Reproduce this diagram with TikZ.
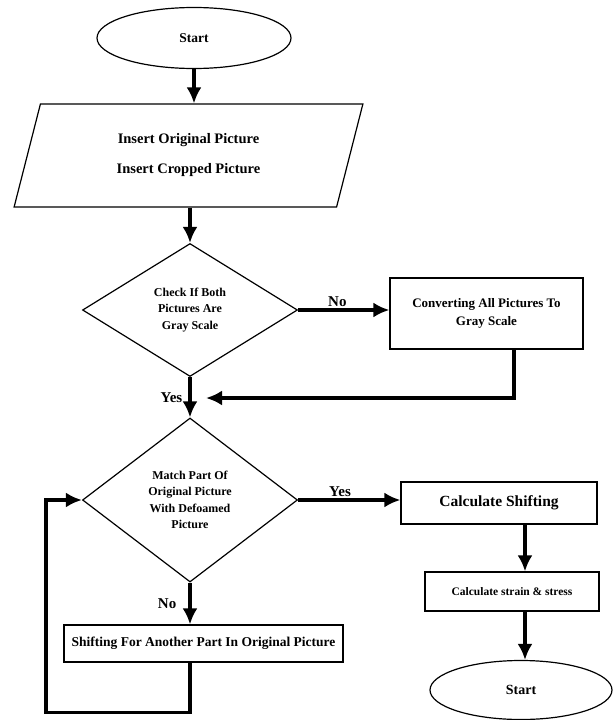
\documentclass[tikz,border=0pt]{standalone}
\usepackage{fontspec}
\setmainfont{Liberation Serif}
\usetikzlibrary{shapes.geometric,arrows.meta}

\begin{document}
\begin{tikzpicture}[x=1pt, y=-1pt,
		box/.style={draw, rectangle, line width=1.2pt, inner sep=0pt, align=center, font=\bfseries\fontsize{13}{18}\selectfont},
		oval/.style={draw, ellipse, line width=1.2pt, inner sep=0pt, font=\bfseries\fontsize{13.5}{16}\selectfont},
		decision/.style={draw, diamond, line width=1.2pt, inner sep=0pt, align=center, font=\bfseries\fontsize{12}{16.5}\selectfont},
		flow/.style={line width=3.5pt, -{Latex[length=16pt,width=15pt]}},
		answer/.style={font=\bfseries\fontsize{15}{18}\selectfont, inner sep=2pt}]
	\useasboundingbox (0,0) rectangle (613,720);

	\node [oval, minimum width=194pt, minimum height=61pt] (start) at (194,38) {Start};
	\node [draw, trapezium, trapezium left angle=75, trapezium right angle=105, trapezium stretches=true,
		line width=1.2pt, minimum width=349pt, minimum height=103pt, align=center,
		font=\bfseries\fontsize{14.5}{18}\selectfont] (input) at (188.5,155.5)
		{Insert Original Picture\\[12pt]Insert Cropped Picture};
	\node [decision, aspect=1.6, minimum width=215pt, minimum height=133pt] (check) at (190,310)
		{Check If Both\\Pictures Are\\Gray Scale};
	\node [box, minimum width=193pt, minimum height=71pt] (convert) at (486.5,313.5)
		{Converting All Pictures To\\Gray Scale};
	\coordinate (merge) at (190,398);
	\node [decision, aspect=1.3, minimum width=215pt, minimum height=164pt] (match) at (190,500)
		{Match Part Of\\Original Picture\\With Defoamed\\Picture};
	\node [box, minimum width=196pt, minimum height=42pt, font=\bfseries\fontsize{15.5}{18}\selectfont] (shifting) at (499,503)
		{Calculate Shifting};
	\node [box, minimum width=174pt, minimum height=39pt, font=\bfseries\fontsize{11.5}{14}\selectfont] (strain) at (512,591.5)
		{Calculate strain \& stress};
	\node [oval, minimum width=182pt, minimum height=59pt, font=\bfseries\fontsize{14}{16}\selectfont] (end) at (521,690) {Start};
	\node [box, minimum width=279pt, minimum height=37pt, font=\bfseries\fontsize{13.5}{16}\selectfont] (another) at (203.5,643.5)
		{Shifting For Another Part In Original Picture};

	\draw [flow] (start.south) -- (start.south |- input.north);
	\draw [flow] (check.north |- input.south) -- (check.north);
	\draw [flow] (check.east) -- (check.east -| convert.west) node [answer, pos=0.43, above] {No};
	\draw [flow] ([xshift=27.5pt]convert.south) |- ([xshift=16pt]merge);
	\draw [flow] (check.south) -- (match.north) node [answer, pos=0.5, left=4pt] {Yes};
	\draw [flow] (match.east) -- (match.east -| shifting.west) node [answer, pos=0.41, above] {Yes};
	\draw [flow] ([xshift=13pt]strain.north |- shifting.south) -- ([xshift=13pt]strain.north);
	\draw [flow] ([xshift=13pt]strain.south) -- ([xshift=13pt]strain.south |- end.north);
	\draw [flow] (match.south) -- (match.south |- another.north) node [answer, pos=0.5, left=10pt] {No};
	\draw [flow] (match.south |- another.south) -- ++(0,50) -| ([xshift=-36pt]match.west) -- (match.west);
\end{tikzpicture}
\end{document}
